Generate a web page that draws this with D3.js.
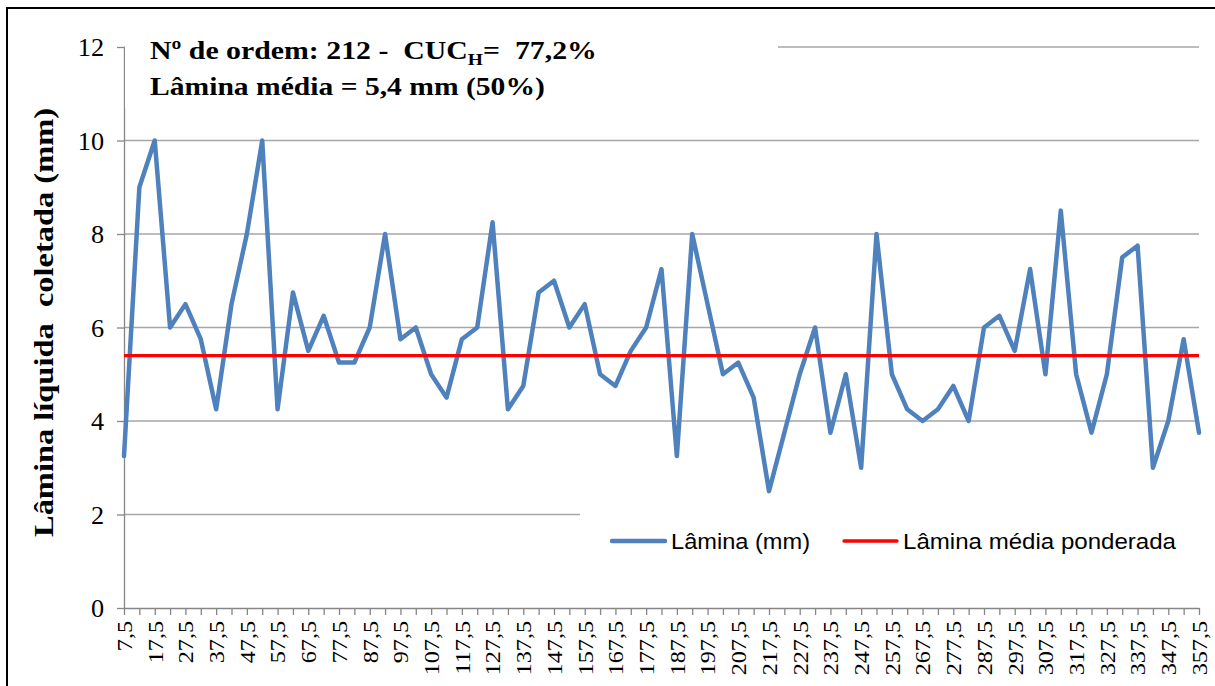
<!DOCTYPE html>
<html><head><meta charset="utf-8">
<script src="https://cdn.jsdelivr.net/npm/d3@7"></script>
<style>body{margin:0;background:#fff;} svg{display:block}</style>
</head><body>
<svg id="c" width="1215" height="686"></svg>
<script>
const categories = [7.5,12.5,17.5,22.5,27.5,32.5,37.5,42.5,47.5,52.5,57.5,62.5,67.5,72.5,77.5,82.5,87.5,92.5,97.5,102.5,107.5,112.5,117.5,122.5,127.5,132.5,137.5,142.5,147.5,152.5,157.5,162.5,167.5,172.5,177.5,182.5,187.5,192.5,197.5,202.5,207.5,212.5,217.5,222.5,227.5,232.5,237.5,242.5,247.5,252.5,257.5,262.5,267.5,272.5,277.5,282.5,287.5,292.5,297.5,302.5,307.5,312.5,317.5,322.5,327.5,332.5,337.5,342.5,347.5,352.5,357.5];
const lamina = [3.25,9.0,10.0,6.0,6.5,5.75,4.25,6.5,8.0,10.0,4.25,6.75,5.5,6.25,5.25,5.25,6.0,8.0,5.75,6.0,5.0,4.5,5.75,6.0,8.25,4.25,4.75,6.75,7.0,6.0,6.5,5.0,4.75,5.5,6.0,7.25,3.25,8.0,6.5,5.0,5.25,4.5,2.5,3.75,5.0,6.0,3.75,5.0,3.0,8.0,5.0,4.25,4.0,4.25,4.75,4.0,6.0,6.25,5.5,7.25,5.0,8.5,5.0,3.75,5.0,7.5,7.75,3.0,4.0,5.75,3.75];
const mediaPonderada = 5.4;
const yTicks = [0,2,4,6,8,10,12];
const seriesNames = ["Lâmina (mm)", "Lâmina média ponderada"];
const yTitle = "Lâmina líquida  coletada (mm)";

const svg = d3.select("#c");
const x = d3.scalePoint().domain(categories).range([124,1199]);
const y = d3.scaleLinear().domain([0,12]).range([608,47]);
const serif = "'Liberation Serif','Times New Roman',serif";
const sans = "'Liberation Sans',Arial,sans-serif";

// outer border
svg.append("rect").attr("x",7).attr("y",8).attr("width",1230).attr("height",700)
  .attr("fill","none").attr("stroke","#000").attr("stroke-width",2);

// gridlines
svg.append("g").selectAll("line").data(yTicks.filter(d=>d>0)).join("line")
  .attr("x1",x.range()[0]).attr("x2",x.range()[1])
  .attr("y1",d=>y(d)).attr("y2",d=>y(d))
  .attr("stroke","#a6a6a6").attr("stroke-width",1.3);

// y axis
const yAxis = svg.append("g").attr("transform",`translate(${x.range()[0]},0)`)
  .call(d3.axisLeft(y).tickValues(yTicks).tickSize(7).tickSizeOuter(0).tickFormat(d=>d));
yAxis.select(".domain").attr("stroke","#868686").attr("stroke-width",1.3);
yAxis.selectAll(".tick line").attr("stroke","#868686").attr("stroke-width",1.3);
yAxis.selectAll(".tick text").attr("x",0).attr("dy","0.35em")
  .attr("transform","translate(-20,0) scale(1.05,1)")
  .attr("font-family",serif).attr("font-size",25).attr("fill","#000");

// x axis
const xAxis = svg.append("g").attr("transform",`translate(0,${y(0)})`)
  .call(d3.axisBottom(x).tickSize(7).tickSizeOuter(0)
    .tickFormat((d,i)=> i%2===0 ? String(d).replace(".",",") : ""));
xAxis.select(".domain").attr("stroke","#868686").attr("stroke-width",1.3);
xAxis.selectAll(".tick line").attr("stroke","#868686").attr("stroke-width",1.3);
xAxis.selectAll(".tick text").attr("x",0).attr("y",0).attr("dy","0.35em")
  .attr("text-anchor","end")
  .attr("transform","translate(0,13) rotate(-90) scale(1.15,1)")
  .attr("font-family",serif).attr("font-size",21).attr("fill","#000");

// title box (covers top gridline)
svg.append("rect").attr("x",125).attr("y",28).attr("width",653).attr("height",80).attr("fill","#fff");
// legend box (covers gridline 2)
svg.append("rect").attr("x",580).attr("y",505).attr("width",621).attr("height",70).attr("fill","#fff");

// series
const line = d3.line().x((d,i)=>x(categories[i])).y(d=>y(d));
svg.append("path").datum(lamina).attr("d",line).attr("fill","none")
  .attr("stroke","#4F81BD").attr("stroke-width",4.5).attr("stroke-linejoin","round").attr("stroke-linecap","round");
svg.append("line").attr("x1",x(categories[0])).attr("x2",x(categories[categories.length-1]))
  .attr("y1",y(mediaPonderada)).attr("y2",y(mediaPonderada))
  .attr("stroke","#FF0000").attr("stroke-width",3.3);

// titles
const t1 = svg.append("text").attr("font-family",serif).attr("font-weight","bold").attr("font-size",26).style("white-space","pre");
t1.append("tspan").text("Nº de ordem: 212 -  CUC");
t1.append("tspan").attr("font-size",17).attr("dy",6).text("H");
t1.append("tspan").attr("dy",-6).text("=  77,2%");
let w1 = t1.node().getBBox().width;
t1.attr("transform",`translate(150,59) scale(${447/w1},1)`);

const t2 = svg.append("text").attr("font-family",serif).attr("font-weight","bold").attr("font-size",26).style("white-space","pre")
  .text("Lâmina média = 5,4 mm (50%)");
let w2 = t2.node().getBBox().width;
t2.attr("transform",`translate(150,95) scale(${395/w2},1)`);

// y title
svg.append("text").attr("font-family",serif).attr("font-weight","bold").attr("font-size",28)
  .style("white-space","pre")
  .attr("text-anchor","middle").attr("textLength",429).attr("lengthAdjust","spacingAndGlyphs")
  .attr("transform","translate(53,322.5) rotate(-90)").text(yTitle);

// legend
const leg = [{name:seriesNames[0], color:"#4F81BD", w:4.5, x0:612, x1:665, tx:671, tl:139},
             {name:seriesNames[1], color:"#FF0000", w:3.3, x0:844, x1:897, tx:903, tl:273}];
const lg = svg.append("g");
lg.selectAll("line").data(leg).join("line").attr("x1",d=>d.x0).attr("x2",d=>d.x1)
  .attr("y1",541).attr("y2",541).attr("stroke",d=>d.color).attr("stroke-width",d=>d.w).attr("stroke-linecap","round");
lg.selectAll("text").data(leg).join("text").attr("x",d=>d.tx).attr("y",549)
  .attr("font-family",sans).attr("font-size",22).attr("textLength",d=>d.tl).attr("lengthAdjust","spacingAndGlyphs")
  .attr("fill","#000").text(d=>d.name);
</script>
</body></html>
